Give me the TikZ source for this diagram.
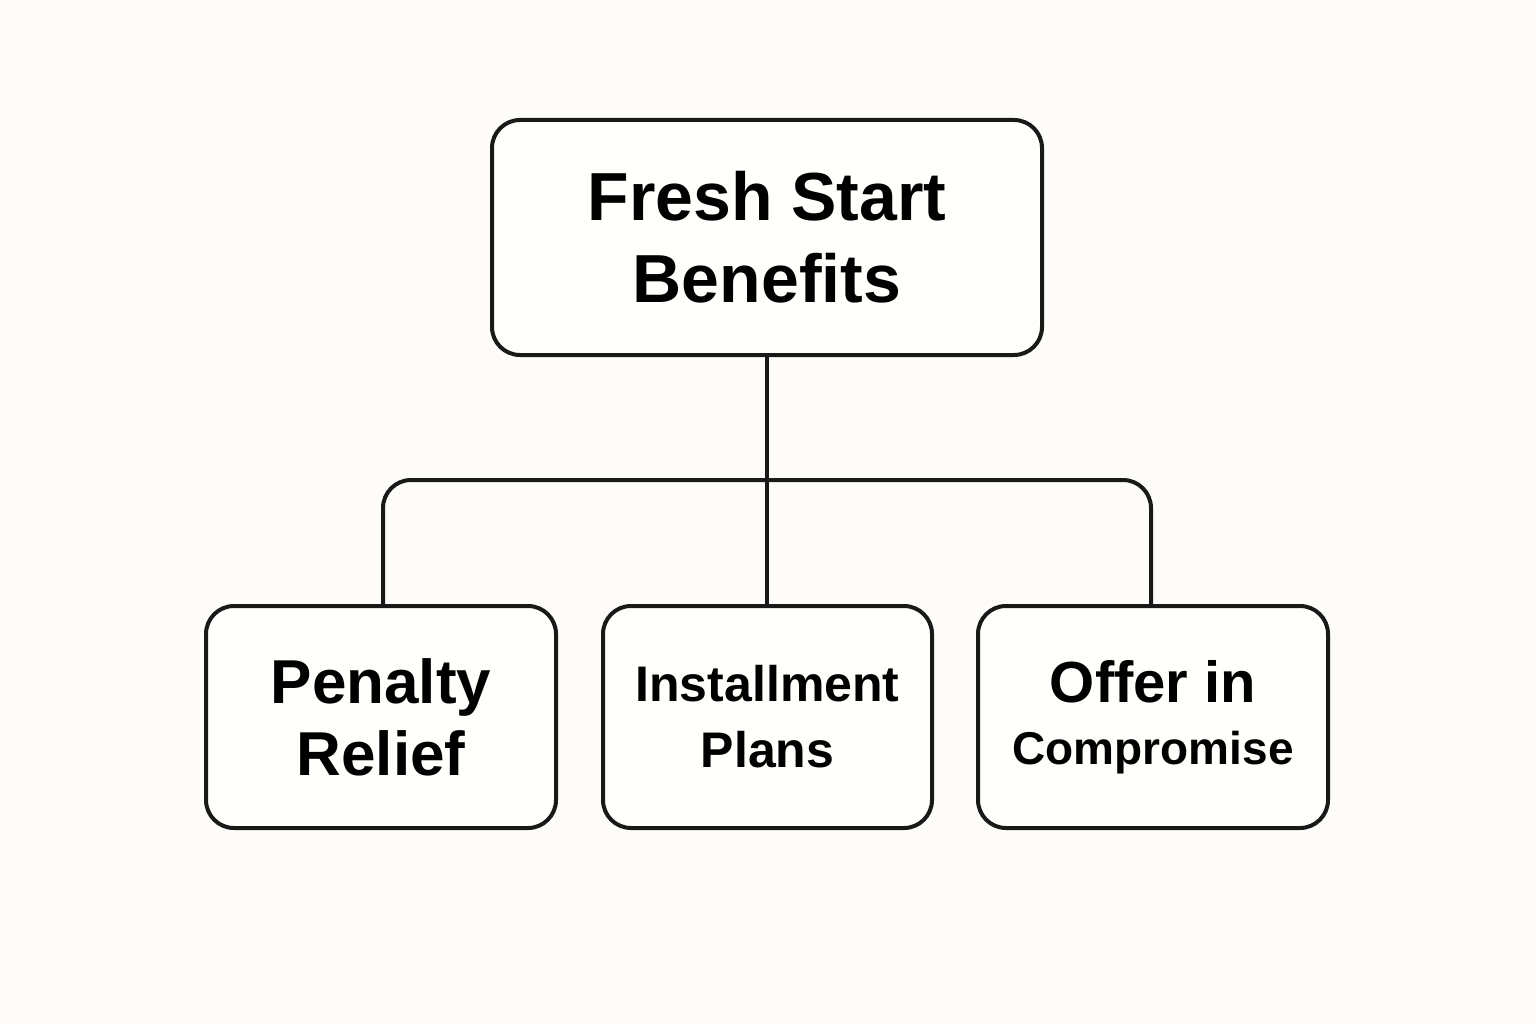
\documentclass[tikz,border=0pt]{standalone}
\usepackage{fontspec}
\setmainfont{Liberation Sans}
\begin{document}
\begin{tikzpicture}[x=1pt,y=-1pt,
  box/.style={draw=black!90,line width=4pt,rounded corners=28pt,fill=white!50!yellow!3,align=center,font=\bfseries},
  conn/.style={draw=black!90,line width=4pt}]
\fill[fill={rgb,255:red,253;green,252;blue,248}] (0,0) rectangle (1536,1024);
\useasboundingbox (0,0) rectangle (1536,1024);
\node[box,minimum width=550pt,minimum height=235pt,font=\fontsize{68}{82}\selectfont\bfseries] (top) at (767,237.5) {Fresh Start\\Benefits};
\node[box,minimum width=350pt,minimum height=222pt,font=\fontsize{62}{72}\selectfont\bfseries] (a) at (381,717) {Penalty\\Relief};
\node[box,minimum width=329pt,minimum height=222pt,font=\fontsize{50}{66}\selectfont\bfseries] (b) at (767.5,717) {Installment\\Plans};
\node[box,minimum width=350pt,minimum height=222pt,font=\fontsize{58}{66}\selectfont\bfseries] (c) at (1153,717) {Offer in\\[-4pt]{\fontsize{46}{56}\selectfont Compromise}};
\coordinate (j) at (767,480);
\draw[conn] (top.south) -- (j);
\draw[conn,rounded corners=28pt] (a.north -| 383,0) -- (383,480) -- (1151,480) -- (c.north -| 1151,0);
\draw[conn] (j) -- (b.north -| 767,0);
\end{tikzpicture}
\end{document}
